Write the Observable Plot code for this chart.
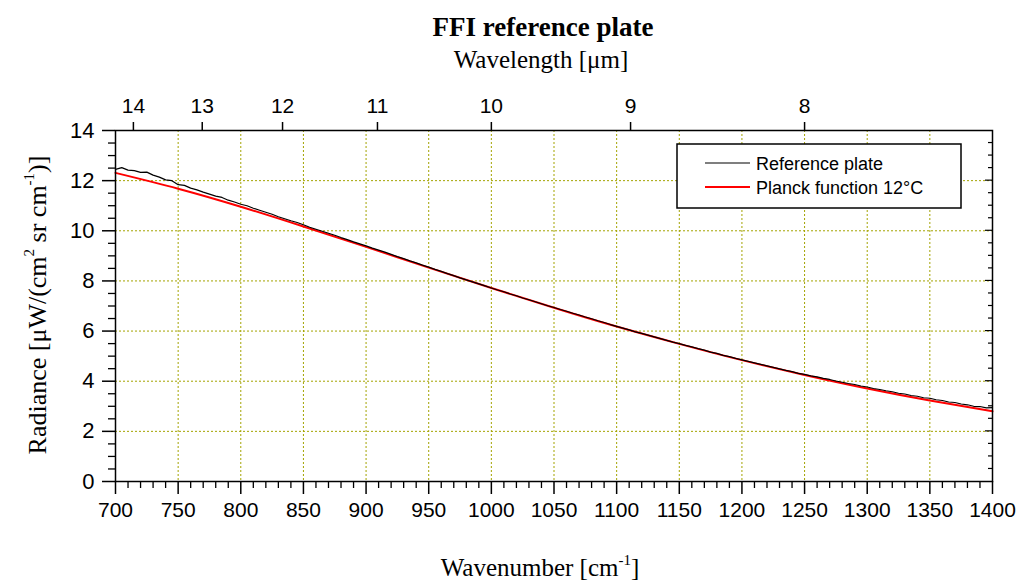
<!DOCTYPE html>
<html>
<head>
<meta charset="utf-8">
<script src="https://cdn.jsdelivr.net/npm/d3@7"></script>
<script src="https://cdn.jsdelivr.net/npm/@observablehq/plot@0.6"></script>
<style>
  html, body { margin: 0; padding: 0; background: #fff; }
  #chart { width: 1021px; height: 586px; }
</style>
</head>
<body>
<div id="chart"></div>
<script>
// ---- Data ----
const refWavenumber = [700,705,710,715,720,725,730,735,740,745,750,755,760,765,770,775,780,785,790,795,
  800,805,810,815,820,825,830,835,840,845,850,855,860,865,870,875,880,885,890,895,
  900,905,910,915,920,925,930,935,940,945,950,955,960,965,970,975,980,985,990,995,
  1000,1005,1010,1015,1020,1025,1030,1035,1040,1045,1050,1055,1060,1065,1070,1075,1080,1085,1090,1095,
  1100,1105,1110,1115,1120,1125,1130,1135,1140,1145,1150,1155,1160,1165,1170,1175,1180,1185,1190,1195,
  1200,1205,1210,1215,1220,1225,1230,1235,1240,1245,1250,1255,1260,1265,1270,1275,1280,1285,1290,1295,
  1300,1305,1310,1315,1320,1325,1330,1335,1340,1345,1350,1355,1360,1365,1370,1375,1380,1385,1390,1395,1400];
const refRadiance = [12.45,12.52,12.42,12.40,12.33,12.34,12.22,12.14,12.03,12.00,11.84,11.81,11.70,11.63,11.54,11.46,11.38,11.33,11.22,11.15,
  11.06,11.00,10.90,10.82,10.74,10.66,10.56,10.48,10.40,10.33,10.24,10.14,10.06,9.98,9.90,9.82,9.73,9.65,9.56,9.48,
  9.40,9.31,9.23,9.15,9.06,8.97,8.89,8.80,8.72,8.63,8.55,8.46,8.38,8.29,8.21,8.12,8.04,7.96,7.88,7.80,
  7.72,7.64,7.57,7.48,7.41,7.32,7.25,7.17,7.09,7.01,6.94,6.86,6.79,6.71,6.64,6.56,6.49,6.41,6.34,6.26,
  6.19,6.12,6.05,5.97,5.91,5.84,5.77,5.70,5.63,5.56,5.50,5.43,5.37,5.30,5.24,5.16,5.11,5.03,4.98,4.91,
  4.85,4.79,4.73,4.67,4.61,4.55,4.49,4.43,4.38,4.31,4.27,4.21,4.17,4.11,4.07,4.01,3.96,3.91,3.87,3.81,
  3.77,3.71,3.67,3.62,3.58,3.52,3.49,3.43,3.40,3.34,3.32,3.26,3.23,3.17,3.15,3.09,3.06,3.00,2.99,2.94,2.95];

const planckWavenumber = [700,750,800,850,900,950,1000,1050,1100,1150,1200,1250,1300,1350,1400];
const planckRadiance   = [12.31,11.68,10.96,10.17,9.36,8.53,7.72,6.93,6.18,5.49,4.84,4.25,3.71,3.23,2.80];

const xTicks = [700,750,800,850,900,950,1000,1050,1100,1150,1200,1250,1300,1350,1400];
const yTicks = [0,2,4,6,8,10,12,14];
const wavelengthTicks = [14,13,12,11,10,9,8];
const seriesNames = ["Reference plate", "Planck function 12°C"];
const seriesColors = ["#000000", "#ff0000"];

// ---- Build tables ----
const refData = refWavenumber.map((w, i) => ({w, r: refRadiance[i]}));
const planckData = planckWavenumber.map((w, i) => ({w, r: planckRadiance[i]}));
const xMinor = d3.range(700, 1401, 10).filter(v => v % 50 !== 0);
const yMinor = d3.range(0, 14.01, 0.5).filter(v => v % 2 !== 0);
const gridX = xTicks.slice(1, -1);
const gridY = yTicks.slice(1, -1);
const topTickPos = wavelengthTicks.map(l => 10000 / l);

const W = 1021, H = 586;
const gridColor = "#a3a300";
const axisFont = "'Liberation Sans', Arial, sans-serif";
const serif = "'Liberation Serif', 'Times New Roman', serif";
const AX = {stroke: "#000", label: null};
const noLabel = () => "";

const plot = Plot.plot({
  width: W, height: H,
  marginLeft: 115, marginRight: 29, marginTop: 130, marginBottom: 105,
  style: {fontFamily: axisFont, fontSize: "21px", color: "#000"},
  x: {domain: [700, 1400]},
  y: {domain: [0, 14]},
  marks: [
    Plot.gridX(gridX, {stroke: gridColor, strokeOpacity: 1, strokeWidth: 1, strokeDasharray: "2,2"}),
    Plot.gridY(gridY, {stroke: gridColor, strokeOpacity: 1, strokeWidth: 1, strokeDasharray: "2,2"}),
    Plot.line(planckData, {x: "w", y: "r", stroke: seriesColors[1], strokeWidth: 2, curve: "natural"}),
    Plot.line(refData, {x: "w", y: "r", stroke: seriesColors[0], strokeWidth: 1.2}),
    Plot.frame({stroke: "#000", strokeWidth: 1.5}),
    // bottom axis
    Plot.axisX(xMinor, {...AX, anchor: "bottom", tickSize: 7, strokeWidth: 1.3, tickFormat: noLabel}),
    Plot.axisX(xTicks, {...AX, anchor: "bottom", tickSize: 13, tickPadding: 8, strokeWidth: 1.5, tickFormat: d => String(d)}),
    // left axis
    Plot.axisY(yMinor, {...AX, anchor: "left", tickSize: 7, strokeWidth: 1.3, tickFormat: noLabel}),
    Plot.axisY(yTicks, {...AX, anchor: "left", tickSize: 13, tickPadding: 8, strokeWidth: 1.5, fontSize: 22, tickFormat: d => String(d)}),
    // top axis: wavelength
    Plot.axisX(topTickPos, {...AX, anchor: "top", tickSize: 9, tickPadding: 9, strokeWidth: 1.5,
      tickFormat: d => String(Math.round(10000 / d))})
  ]
});

document.getElementById("chart").appendChild(plot);

// ---- Right-side inward ticks, titles and legend ----
const svg = d3.select(plot);
const xs = plot.scale("x"), ys = plot.scale("y");
const xr = xs.apply(1400);
const rt = svg.append("g").attr("stroke", "#000").attr("stroke-width", 1.2);
yMinor.concat(gridY).forEach(v => {
  const len = v % 2 === 0 ? 7 : 4;
  rt.append("line").attr("x1", xr - len).attr("x2", xr).attr("y1", ys.apply(v)).attr("y2", ys.apply(v));
});

svg.append("text").attr("x", 543).attr("y", 36).attr("text-anchor", "middle")
  .attr("font-family", serif).attr("font-weight", "bold").attr("font-size", 27)
  .attr("fill", "#000").text("FFI reference plate");

svg.append("text").attr("x", 541).attr("y", 68).attr("text-anchor", "middle")
  .attr("font-family", serif).attr("font-size", 25).attr("fill", "#000").text("Wavelength [μm]");

const xl = svg.append("text").attr("x", 540).attr("y", 576).attr("text-anchor", "middle")
  .attr("font-family", serif).attr("font-size", 25).attr("fill", "#000");
xl.append("tspan").text("Wavenumber [cm");
xl.append("tspan").attr("font-size", 15).attr("dy", -11).text("-1");
xl.append("tspan").attr("dy", 11).text("]");

const yl = svg.append("text").attr("transform", "translate(46,305) rotate(-90)").attr("text-anchor", "middle")
  .attr("font-family", serif).attr("font-size", 26).attr("fill", "#000");
yl.append("tspan").text("Radiance [μW/(cm");
yl.append("tspan").attr("font-size", 15).attr("dy", -12).text("2");
yl.append("tspan").attr("dy", 12).text(" sr cm");
yl.append("tspan").attr("font-size", 15).attr("dy", -12).text("-1");
yl.append("tspan").attr("dy", 12).text(")]");

const lg = svg.append("g").attr("class", "legend");
lg.append("rect").attr("x", 677).attr("y", 144).attr("width", 284).attr("height", 64)
  .attr("fill", "#fff").attr("stroke", "#000").attr("stroke-width", 1.5);
seriesNames.forEach((name, i) => {
  const yy = 163 + i * 24;
  lg.append("line").attr("x1", 705).attr("x2", 750).attr("y1", yy).attr("y2", yy)
    .attr("stroke", seriesColors[i]).attr("stroke-width", i === 1 ? 2 : 1.2);
  lg.append("text").attr("x", 756).attr("y", yy + 6.5).attr("text-anchor", "start")
    .attr("font-family", axisFont).attr("font-size", 18).attr("fill", "#000").text(name);
});
</script>
</body>
</html>
